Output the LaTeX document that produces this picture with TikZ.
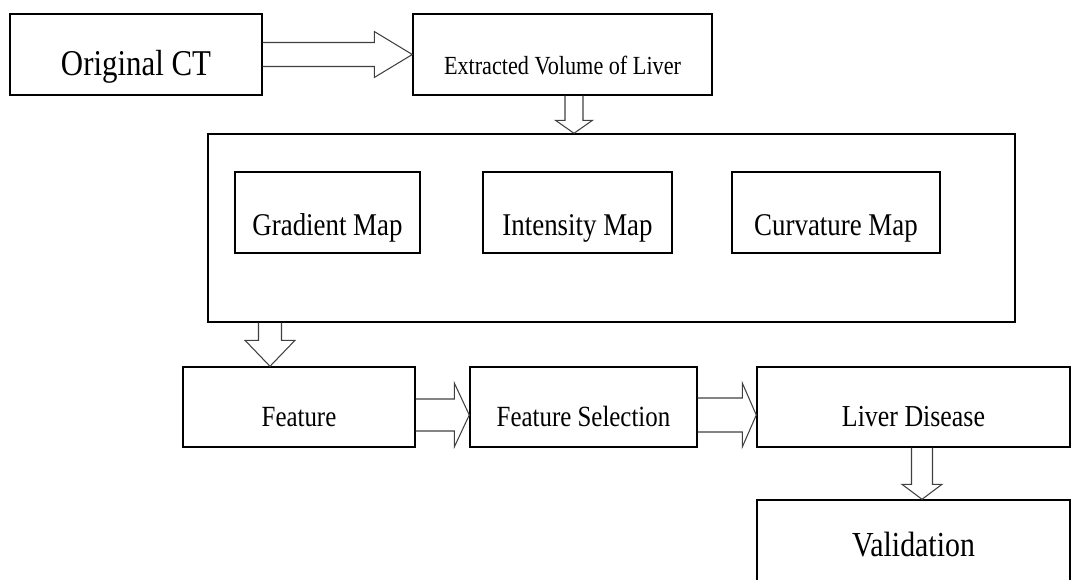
\documentclass[tikz,border=0pt]{standalone}
\usepackage{fontspec}
\setmainfont{Liberation Serif}[FakeStretch=0.85]
\usetikzlibrary{positioning, calc}
\tikzset{
  box/.style={draw, line width=1.2pt, minimum height=2.43cm, align=center, inner sep=2pt},
  outer/.style={draw, line width=1.2pt},
  lowtext/.style={text depth=0pt, text height=#1},
  blk/.style={draw=black!75, line width=0.9pt, line join=miter}
}
% hollow block arrow: start, end, shaft half width, head half width, head length
\newcommand{\blockarrow}[5]{%
  \coordinate (ba-s) at (#1);
  \coordinate (ba-e) at (#2);
  \coordinate (ba-h) at ($(ba-e)!#5!(ba-s)$);
  \draw[blk] ($(ba-s)!#3!90:(ba-e)$) -- ($(ba-h)!#3!90:(ba-e)$) -- ($(ba-h)!#4!90:(ba-e)$)
    -- (ba-e) -- ($(ba-h)!#4!-90:(ba-e)$) -- ($(ba-h)!#3!-90:(ba-e)$) -- ($(ba-s)!#3!-90:(ba-e)$);
}

\begin{document}
\begin{tikzpicture}[x=0.03cm, y=-0.03cm]
  \useasboundingbox (0,0) rectangle (1081,579);
  \clip (0,0) rectangle (1081,579);
  \node[box, minimum width=7.56cm, lowtext=1.26cm, font=\fontsize{31}{36}\selectfont] (orig) at (136,54.5) {Original CT};
  \node[box, minimum width=8.97cm, lowtext=1.2cm, font=\fontsize{22.3}{26}\selectfont] (vol) at (562.5,54.5) {Extracted Volume of Liver};
  \node[outer, minimum width=24.21cm, minimum height=5.64cm] (maps) at (611.5,228) {};
  \node[box, minimum width=5.55cm, lowtext=1.38cm, font=\fontsize{27}{32}\selectfont] (grad) at (327.5,212.5) {Gradient Map};
  \node[box, minimum width=5.67cm, lowtext=1.38cm, font=\fontsize{27}{32}\selectfont] (inten) at (577.5,212.5) {Intensity Map};
  \node[box, minimum width=6.24cm, lowtext=1.38cm, font=\fontsize{27}{32}\selectfont] (curv) at (836,212.5) {Curvature Map};
  \node[box, minimum width=6.96cm, minimum height=2.4cm, lowtext=1.14cm, font=\fontsize{25}{30}\selectfont] (feat) at (299,407) {Feature};
  \node[box, minimum width=6.81cm, minimum height=2.4cm, lowtext=1.14cm, font=\fontsize{25}{30}\selectfont] (fsel) at (583.5,407) {Feature Selection};
  \node[box, minimum width=9.39cm, minimum height=2.4cm, lowtext=1.14cm, font=\fontsize{26}{30}\selectfont] (dis) at (913.5,407) {Liver Disease};
  \node[box, minimum width=9.39cm, minimum height=2.85cm, lowtext=0.51cm, font=\fontsize{30}{35}\selectfont] (valid) at (913.5,547.5) {Validation};
  \coordinate (volout) at ($(vol.south)+(11.5,0)$);
  \coordinate (featin) at ($(feat.north)+(-29,0)$);
  \coordinate (valin) at ($(valid.north)+(8.5,0)$);
  \blockarrow{orig.east}{vol.west}{0.36cm}{0.69cm}{1.14cm}
  \blockarrow{volout}{volout |- maps.north}{0.27cm}{0.555cm}{0.39cm}
  \blockarrow{featin |- maps.south}{featin}{0.345cm}{0.75cm}{0.78cm}
  \blockarrow{$(feat.east)+(0,8)$}{$(fsel.west)+(0,8)$}{0.48cm}{0.96cm}{0.45cm}
  \blockarrow{$(fsel.east)+(0,8)$}{$(dis.west)+(0,8)$}{0.51cm}{0.96cm}{0.42cm}
  \blockarrow{dis.south -| valin}{valin}{0.315cm}{0.6cm}{0.45cm}
\end{tikzpicture}
\end{document}
